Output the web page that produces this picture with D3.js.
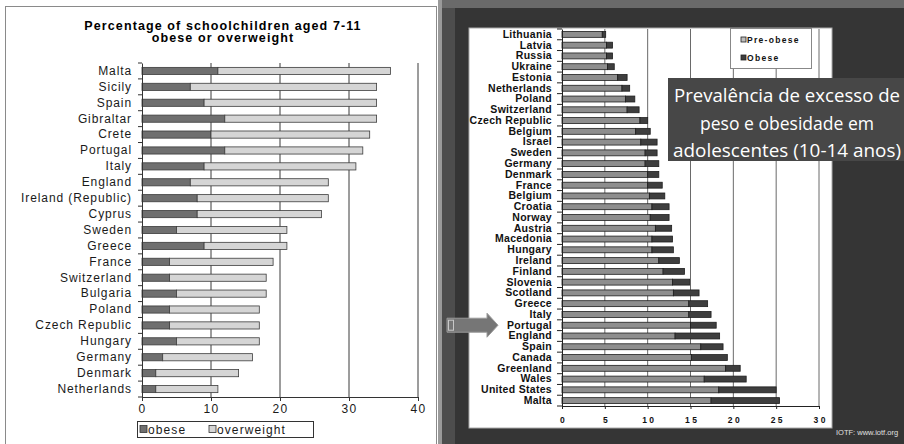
<!DOCTYPE html>
<html>
<head>
<meta charset="utf-8">
<script src="https://cdn.jsdelivr.net/npm/d3@7"></script>
<style>
  body { margin: 0; background: #fff; }
  svg { display: block; font-family: "Liberation Sans", Arial, sans-serif; }
</style>
</head>
<body>
<svg width="904" height="444"></svg>
<script>
// left chart: schoolchildren 7-11
const leftCountries = ['Malta', 'Sicily', 'Spain', 'Gibraltar', 'Crete', 'Portugal', 'Italy', 'England',
  'Ireland (Republic)', 'Cyprus', 'Sweden', 'Greece', 'France', 'Switzerland', 'Bulgaria', 'Poland',
  'Czech Republic', 'Hungary', 'Germany', 'Denmark', 'Netherlands'];
const leftObese = [11, 7, 9, 12, 10, 12, 9, 7, 8, 8, 5, 9, 4, 4, 5, 4, 4, 5, 3, 2, 2];
const leftOverweight = [25, 27, 25, 22, 23, 20, 22, 20, 19, 18, 16, 12, 15, 14, 13, 13, 13, 12, 13, 12, 9];
const leftTicks = [0, 10, 20, 30, 40];

// right chart: adolescents 10-14
const rightCountries = ['Lithuania', 'Latvia', 'Russia', 'Ukraine', 'Estonia', 'Netherlands', 'Poland',
  'Switzerland', 'Czech Republic', 'Belgium', 'Israel', 'Sweden', 'Germany', 'Denmark', 'France', 'Belgium',
  'Croatia', 'Norway', 'Austria', 'Macedonia', 'Hungary', 'Ireland', 'Finland', 'Slovenia', 'Scotland',
  'Greece', 'Italy', 'Portugal', 'England', 'Spain', 'Canada', 'Greenland', 'Wales', 'United States', 'Malta'];
const rightPreObese = [4.7, 5.2, 5.2, 5.3, 6.5, 7.0, 7.4, 7.6, 9.1, 8.6, 9.2, 9.7, 9.7, 10.0, 10.0, 10.2,
  10.5, 10.3, 10.9, 10.5, 10.5, 11.3, 11.8, 12.9, 13.0, 14.8, 14.8, 15.0, 13.2, 16.2, 15.1, 19.1, 16.6, 18.3, 17.4];
const rightObese = [0.4, 0.7, 0.7, 0.8, 1.1, 0.9, 1.1, 1.4, 0.9, 1.7, 1.9, 1.4, 1.6, 1.3, 1.7, 1.8,
  2.0, 2.2, 1.9, 2.4, 2.5, 2.4, 2.5, 2.0, 3.0, 2.2, 2.6, 3.0, 5.2, 2.6, 4.2, 1.7, 4.9, 6.7, 8.0];
const rightTicks = [0, 5, 10, 15, 20, 25, 30];
const titleLines = ['Prevalência de excesso de', 'peso e obesidade em', 'adolescentes (10-14 anos)'];

const svg = d3.select('svg');

//* LEFT PANEL
svg.append('rect')
  .attr('x', 5.5).attr('y', 6.5).attr('width', 431).attr('height', 440)
  .attr('fill', '#fff').attr('stroke', '#8a8a8a');

svg.append('text')
  .attr('x', 223).attr('y', 29.5)
  .attr('text-anchor', 'middle')
  .style('font-size', '12.5px').style('font-weight', 'bold').style('letter-spacing', '1.1px')
  .text('Percentage of schoolchildren aged 7-11');
svg.append('text')
  .attr('x', 223).attr('y', 42)
  .attr('text-anchor', 'middle')
  .style('font-size', '12.5px').style('font-weight', 'bold').style('letter-spacing', '1.1px')
  .text('obese or overweight');

const lx = d3.scaleLinear().domain([0, 40]).range([142, 418]);
const ly = d3.scaleBand().domain(leftCountries).range([63, 397]).paddingInner(0.55).paddingOuter(0.275);

const left = svg.append('g');

left.selectAll('.lgrid')
  .data(leftTicks.filter((d) => d > 0))
  .enter()
  .append('line')
  .attr('x1', (d) => lx(d)).attr('x2', (d) => lx(d))
  .attr('y1', 63).attr('y2', 397)
  .attr('stroke', '#3a3a3a');

const leftRows = leftCountries.map((c, i) => ({ country: c, obese: leftObese[i], overweight: leftOverweight[i] }));
const leftStack = d3.stack().keys(['obese', 'overweight'])(leftRows);
const leftFill = { obese: '#6f6f6f', overweight: '#d5d5d5' };

left.selectAll('.lseries')
  .data(leftStack)
  .enter()
  .append('g')
  .attr('fill', (s) => leftFill[s.key])
  .selectAll('rect')
  .data((s) => s)
  .enter()
  .append('rect')
  .attr('x', (d) => lx(d[0]))
  .attr('y', (d) => ly(d.data.country))
  .attr('width', (d) => lx(d[1]) - lx(d[0]))
  .attr('height', ly.bandwidth())
  .attr('stroke', '#3c3c3c')
  .attr('stroke-width', 0.8);

// y axis
const lyAxis = left.append('g')
  .attr('transform', 'translate(142,0)')
  .call(d3.axisLeft(ly).tickSize(0).tickPadding(10));
lyAxis.select('.domain').attr('stroke', '#333');
lyAxis.selectAll('text')
  .style('font-family', '"Liberation Sans", Arial, sans-serif')
  .style('font-size', '12px').style('letter-spacing', '0.9px').attr('fill', '#1a1a1a');
left.selectAll('.lytick')
  .data(d3.range(leftCountries.length + 1))
  .enter()
  .append('line')
  .attr('x1', 138).attr('x2', 142)
  .attr('y1', (i) => 63 + i * ly.step()).attr('y2', (i) => 63 + i * ly.step())
  .attr('stroke', '#333');

// x axis
const lxAxis = left.append('g')
  .attr('transform', 'translate(0,397)')
  .call(d3.axisBottom(lx).tickValues(leftTicks).tickSize(4).tickSizeOuter(0).tickPadding(3));
lxAxis.select('.domain').attr('stroke', '#333');
lxAxis.selectAll('line').attr('stroke', '#333');
lxAxis.selectAll('text')
  .style('font-family', '"Liberation Sans", Arial, sans-serif')
  .style('font-size', '12px').style('letter-spacing', '1.4px').attr('fill', '#1a1a1a');

// legend
const lleg = svg.append('g');
lleg.append('rect')
  .attr('x', 137.5).attr('y', 421.5).attr('width', 176).attr('height', 16)
  .attr('fill', '#fff').attr('stroke', '#333');
const legItems = [
  { key: 'obese', x: 140 },
  { key: 'overweight', x: 209 },
];
lleg.selectAll('.lsw')
  .data(legItems)
  .enter()
  .append('rect')
  .attr('x', (d) => d.x).attr('y', 425.5).attr('width', 7).attr('height', 7)
  .attr('fill', (d) => leftFill[d.key]).attr('stroke', '#333').attr('stroke-width', 0.8);
lleg.selectAll('.ltx')
  .data(legItems)
  .enter()
  .append('text')
  .attr('x', (d) => d.x + 8).attr('y', 433.5)
  .style('font-size', '12px').style('letter-spacing', '1.1px').attr('fill', '#1a1a1a')
  .text((d) => d.key);

//* RIGHT PANEL
svg.append('rect').attr('x', 438).attr('y', 0).attr('width', 466).attr('height', 444).attr('fill', '#353535');
svg.append('rect').attr('x', 438).attr('y', 0).attr('width', 466).attr('height', 8).attr('fill', '#6a6a6a');
svg.append('rect').attr('x', 438).attr('y', 0).attr('width', 4).attr('height', 444).attr('fill', '#9a9a9a');
svg.append('rect').attr('x', 442).attr('y', 8).attr('width', 13).attr('height', 436).attr('fill', '#4d4d4d');

svg.append('rect')
  .attr('x', 469).attr('y', 28).attr('width', 363).attr('height', 400)
  .attr('fill', '#fff').attr('stroke', '#aaa');

const rx = d3.scaleLinear().domain([0, 30]).range([562, 819]);
const ry = d3.scaleBand().domain(d3.range(rightCountries.length)).range([29, 406])
  .paddingInner(0.45).paddingOuter(0.225);

const right = svg.append('g');

right.selectAll('.rgrid')
  .data(rightTicks.filter((d) => d > 0))
  .enter()
  .append('line')
  .attr('x1', (d) => rx(d)).attr('x2', (d) => rx(d))
  .attr('y1', 29).attr('y2', 406)
  .attr('stroke', '#6a6a6a');

const rightRows = rightCountries.map((c, i) => ({ i: i, pre: rightPreObese[i], obese: rightObese[i] }));
const rightStack = d3.stack().keys(['pre', 'obese'])(rightRows);
const rightFill = { pre: '#8e8e8e', obese: '#3e3e3e' };

right.selectAll('.rseries')
  .data(rightStack)
  .enter()
  .append('g')
  .attr('fill', (s) => rightFill[s.key])
  .selectAll('rect')
  .data((s) => s)
  .enter()
  .append('rect')
  .attr('x', (d) => rx(d[0]))
  .attr('y', (d) => ry(d.data.i))
  .attr('width', (d) => rx(d[1]) - rx(d[0]))
  .attr('height', ry.bandwidth())
  .attr('stroke', '#1e1e1e')
  .attr('stroke-width', 0.8);

const ryAxis = right.append('g')
  .attr('transform', 'translate(562,0)')
  .call(d3.axisLeft(ry).tickSize(0).tickPadding(10).tickFormat((i) => rightCountries[i]));
ryAxis.select('.domain').attr('stroke', '#222');
ryAxis.selectAll('text')
  .style('font-family', '"Liberation Sans", Arial, sans-serif')
  .style('font-size', '10.5px').style('font-weight', 'bold').style('letter-spacing', '0.3px')
  .attr('fill', '#111');
right.selectAll('.rytick')
  .data(d3.range(rightCountries.length + 1))
  .enter()
  .append('line')
  .attr('x1', 557).attr('x2', 562)
  .attr('y1', (i) => 29 + i * ry.step()).attr('y2', (i) => 29 + i * ry.step())
  .attr('stroke', '#222');

const rxAxis = right.append('g')
  .attr('transform', 'translate(0,406)')
  .call(d3.axisBottom(rx).tickValues(rightTicks).tickSize(3).tickSizeOuter(0).tickPadding(8));
rxAxis.select('.domain').attr('stroke', '#222');
rxAxis.selectAll('line').attr('stroke', '#222');
rxAxis.selectAll('text')
  .style('font-family', '"Liberation Sans", Arial, sans-serif')
  .style('font-size', '8.5px').style('font-weight', 'bold').style('letter-spacing', '2.5px')
  .attr('dx', '1.2px').attr('fill', '#111');

// legend
const rleg = svg.append('g');
rleg.append('rect')
  .attr('x', 730.5).attr('y', 28.5).attr('width', 81).attr('height', 40)
  .attr('fill', '#fff').attr('stroke', '#888');
const rlegItems = [
  { key: 'pre', label: 'Pre-obese', y: 40 },
  { key: 'obese', label: 'Obese', y: 58 },
];
rleg.selectAll('.rsw')
  .data(rlegItems)
  .enter()
  .append('rect')
  .attr('x', 741).attr('y', (d) => d.y - 3).attr('width', 5).attr('height', 5)
  .attr('fill', (d) => (d.key === 'pre' ? '#bdbdbd' : rightFill[d.key]))
  .attr('stroke', '#222').attr('stroke-width', 0.8);
rleg.selectAll('.rtx')
  .data(rlegItems)
  .enter()
  .append('text')
  .attr('x', 747).attr('y', (d) => d.y + 3)
  .style('font-size', '8.5px').style('font-weight', 'bold').style('letter-spacing', '1.3px')
  .attr('fill', '#111')
  .text((d) => d.label);

// title box
svg.append('rect')
  .attr('x', 668).attr('y', 78).attr('width', 240).attr('height', 83)
  .attr('fill', '#474747');
svg.selectAll('.ttl')
  .data(titleLines)
  .enter()
  .append('text')
  .attr('x', 787).attr('y', (d, i) => 102 + i * 27.5)
  .attr('text-anchor', 'middle')
  .attr('textLength', (d, i) => [226, 174, 228][i])
  .attr('lengthAdjust', 'spacingAndGlyphs')
  .style('font-family', '"Open Sans", "Noto Sans", sans-serif')
  .style('font-size', '19px')
  .attr('fill', '#fff')
  .text((d) => d);

// arrow pointing at Portugal
const ay = ry(rightCountries.indexOf('Portugal')) + ry.bandwidth() / 2;
svg.append('path')
  .attr('d', `M447,${ay - 7}H487V${ay - 12}L498,${ay}L487,${ay + 12}V${ay + 7}H447Z`)
  .attr('fill', '#767676').attr('stroke', '#9a9a9a').attr('stroke-width', 1);
svg.append('rect')
  .attr('x', 448.5).attr('y', ay - 5).attr('width', 5).attr('height', 10)
  .attr('fill', 'none').attr('stroke', '#c8c8c8');

svg.append('text')
  .attr('x', 836).attr('y', 435)
  .style('font-size', '7.5px')
  .attr('fill', '#e0e0e0')
  .text('IOTF: www.iotf.org');
</script>
</body>
</html>
